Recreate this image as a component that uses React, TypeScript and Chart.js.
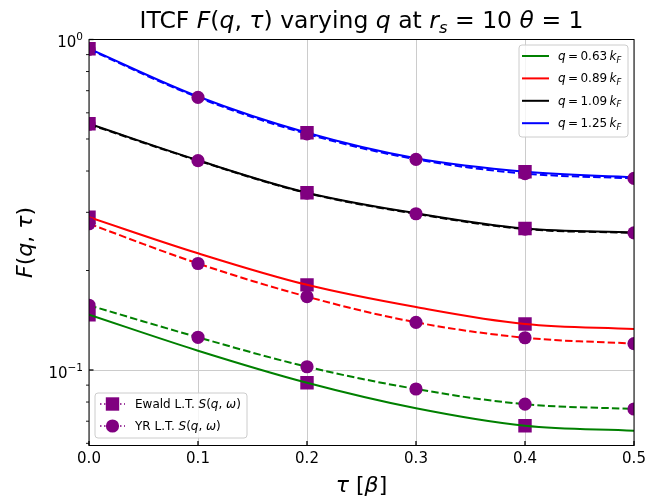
import React, { useEffect, useRef } from 'react';
import { Chart, registerables } from 'chart.js';

Chart.register(...registerables);

// ---- data ----
const tau = [0, 0.1, 0.2, 0.3, 0.4, 0.5];
const qValues = ['0.63', '0.89', '1.09', '1.25'];
const lineColors = ['#008000', '#ff0000', '#000000', '#0000ff'];

const ewaldQ063 = [0.147, 0.1144, 0.0915, 0.0766, 0.0678, 0.0655];
const ewaldQ089 = [0.29, 0.2255, 0.181, 0.155, 0.1377, 0.133];
const ewaldQ109 = [0.556, 0.431, 0.344, 0.298, 0.268, 0.261];
const ewaldQ125 = [0.938, 0.672, 0.522, 0.437, 0.398, 0.383];

const yrQ063 = [0.157, 0.1256, 0.1023, 0.0876, 0.0788, 0.0762];
const yrQ089 = [0.277, 0.21, 0.1667, 0.1394, 0.1252, 0.1202];
const yrQ109 = [0.554, 0.43, 0.343, 0.297, 0.267, 0.26];
const yrQ125 = [0.933, 0.668, 0.518, 0.434, 0.393, 0.38];

const ewaldMarkerTau = [0, 0.2, 0.4];

const xTickValues = [0, 0.1, 0.2, 0.3, 0.4, 0.5];
const xTickLabels = ['0.0', '0.1', '0.2', '0.3', '0.4', '0.5'];
const yMajorTicks = [0.1, 1];
const yMajorExponents = ['\u22121', '0'];
const yMinorTicks = [0.06, 0.07, 0.08, 0.09, 0.2, 0.3, 0.4, 0.5, 0.6, 0.7, 0.8, 0.9];
const yMin = 0.0591;
const yMax = 1.0;

const ewaldSeries = [ewaldQ063, ewaldQ089, ewaldQ109, ewaldQ125];
const yrSeries = [yrQ063, yrQ089, yrQ109, yrQ125];

const PURPLE = '#800080';
const FAM = '"DejaVu Sans", sans-serif';

type Seg = { t: string; it?: boolean; sub?: boolean; sup?: boolean };

function segFont(s: Seg, size: number) {
  const sz = s.sub || s.sup ? size * 0.7 : size;
  return `${s.it ? 'italic ' : ''}${sz}px ${FAM}`;
}
function richWidth(ctx: CanvasRenderingContext2D, segs: Seg[], size: number) {
  let w = 0;
  for (const s of segs) {
    ctx.font = segFont(s, size);
    w += ctx.measureText(s.t).width;
  }
  return w;
}
function drawRich(
  ctx: CanvasRenderingContext2D,
  segs: Seg[],
  x: number,
  y: number,
  size: number,
  align: 'left' | 'center' | 'right'
) {
  const w = richWidth(ctx, segs, size);
  let cx = align === 'center' ? x - w / 2 : align === 'right' ? x - w : x;
  ctx.textAlign = 'left';
  ctx.textBaseline = 'alphabetic';
  for (const s of segs) {
    ctx.font = segFont(s, size);
    const dy = s.sub ? size * 0.22 : s.sup ? -size * 0.45 : 0;
    ctx.fillText(s.t, cx, y + dy);
    cx += ctx.measureText(s.t).width;
  }
}

const titleSegs: Seg[] = [
  { t: 'ITCF ' }, { t: 'F', it: true }, { t: '(' }, { t: 'q', it: true }, { t: ', ' },
  { t: '\u03c4', it: true }, { t: ')' }, { t: ' varying ' }, { t: 'q', it: true }, { t: ' at ' },
  { t: 'r', it: true }, { t: 's', it: true, sub: true }, { t: ' = 10 ' }, { t: '\u03b8', it: true }, { t: ' = 1' },
];
const xLabelSegs: Seg[] = [{ t: '\u03c4', it: true }, { t: ' [' }, { t: '\u03b2', it: true }, { t: ']' }];
const yLabelSegs: Seg[] = [
  { t: 'F', it: true }, { t: '(' }, { t: 'q', it: true }, { t: ', ' }, { t: '\u03c4', it: true }, { t: ')' },
];
const qLegendSegs = (q: string): Seg[] => [
  { t: 'q', it: true }, { t: '\u2009=\u2009' }, { t: q }, { t: '\u2009' }, { t: 'k', it: true }, { t: 'F', it: true, sub: true },
];
const ewaldLegendSegs: Seg[] = [
  { t: 'Ewald L.T. ' }, { t: 'S', it: true }, { t: '(' }, { t: 'q', it: true }, { t: ', ' }, { t: '\u03c9', it: true }, { t: ')' },
];
const yrLegendSegs: Seg[] = [
  { t: 'YR L.T. ' }, { t: 'S', it: true }, { t: '(' }, { t: 'q', it: true }, { t: ', ' }, { t: '\u03c9', it: true }, { t: ')' },
];

function seg(ctx: CanvasRenderingContext2D, x1: number, y1: number, x2: number, y2: number) {
  ctx.beginPath();
  ctx.moveTo(x1, y1);
  ctx.lineTo(x2, y2);
  ctx.stroke();
}

function legendBox(ctx: CanvasRenderingContext2D, x: number, y: number, w: number, h: number) {
  ctx.beginPath();
  (ctx as any).roundRect(x, y, w, h, 3);
  ctx.fillStyle = 'rgba(255,255,255,0.8)';
  ctx.fill();
  ctx.strokeStyle = '#cccccc';
  ctx.lineWidth = 1;
  ctx.stroke();
}

const decorPlugin = {
  id: 'decor',
  afterDatasetsDraw(chart: any) {
    const { ctx, chartArea: a, scales } = chart;
    const xs = scales.x;
    const ys = scales.y;
    ctx.save();
    // frame
    ctx.strokeStyle = '#000';
    ctx.lineWidth = 1;
    ctx.strokeRect(a.left, a.top, a.right - a.left, a.bottom - a.top);
    // ticks
    ctx.lineWidth = 1.3;
    xTickValues.forEach((v) => {
      const px = xs.getPixelForValue(v);
      seg(ctx, px, a.bottom, px, a.bottom - 4.5);
    });
    yMajorTicks.forEach((v) => {
      const py = ys.getPixelForValue(v);
      seg(ctx, a.left, py, a.left + 4.5, py);
    });
    ctx.lineWidth = 0.9;
    yMinorTicks.forEach((v) => {
      const py = ys.getPixelForValue(v);
      seg(ctx, a.left - 3, py, a.left, py);
    });
    // tick labels
    ctx.fillStyle = '#000';
    ctx.font = `15px ${FAM}`;
    ctx.textAlign = 'center';
    ctx.textBaseline = 'top';
    xTickValues.forEach((v, i) => {
      ctx.fillText(xTickLabels[i], xs.getPixelForValue(v), a.bottom + 6);
    });
    yMajorTicks.forEach((v, i) => {
      const py = ys.getPixelForValue(v);
      drawRich(ctx, [{ t: '10' }, { t: yMajorExponents[i], sup: true }], a.left - 6, py + 7.5, 15, 'right');
    });
    // title and axis labels
    drawRich(ctx, titleSegs, (a.left + a.right) / 2, 28, 23.5, 'center');
    drawRich(ctx, xLabelSegs, (a.left + a.right) / 2, 492, 22, 'center');
    ctx.save();
    ctx.translate(32, (a.top + a.bottom) / 2);
    ctx.rotate(-Math.PI / 2);
    drawRich(ctx, yLabelSegs, 0, 0, 22, 'center');
    ctx.restore();

    // legend 1 (q values)
    const fs = 12;
    const l1w = 109;
    const l1x = a.right - 6 - l1w;
    const l1y = a.top + 5.5;
    legendBox(ctx, l1x, l1y, l1w, 92);
    qValues.forEach((q, i) => {
      const cy = l1y + 11 + i * 22.4;
      ctx.strokeStyle = lineColors[i];
      ctx.lineWidth = 2;
      seg(ctx, l1x + 3, cy, l1x + 30, cy);
      ctx.fillStyle = '#000';
      drawRich(ctx, qLegendSegs(q), l1x + 39, cy + 4, fs, 'left');
    });

    // legend 2 (markers)
    const l2x = a.left + 6;
    const l2h = 45;
    const l2y = a.bottom - 7.5 - l2h;
    legendBox(ctx, l2x, l2y, 152, l2h);
    [ewaldLegendSegs, yrLegendSegs].forEach((segs, i) => {
      const cy = l2y + 11 + i * 22;
      ctx.strokeStyle = PURPLE;
      ctx.lineWidth = 1.5;
      ctx.setLineDash([1.5, 2.5]);
      seg(ctx, l2x + 5, cy, l2x + 30, cy);
      ctx.setLineDash([]);
      ctx.fillStyle = PURPLE;
      const mx = l2x + 17.5;
      if (i === 0) {
        ctx.fillRect(mx - 6.7, cy - 6.7, 13.4, 13.4);
      } else {
        ctx.beginPath();
        ctx.arc(mx, cy, 6.6, 0, Math.PI * 2);
        ctx.fill();
      }
      ctx.fillStyle = '#000';
      drawRich(ctx, segs, l2x + 40, cy + 4, fs, 'left');
    });
    ctx.restore();
  },
};

export default function App() {
  const ref = useRef<HTMLCanvasElement>(null);
  useEffect(() => {
    document.body.style.margin = '0';
    const datasets: any[] = [];
    // Ewald markers (bottom)
    ewaldSeries.forEach((arr, k) => {
      datasets.push({
        label: `Ewald markers ${qValues[k]}`,
        data: tau
          .map((t, i) => ({ x: t, y: arr[i] }))
          .filter((p) => ewaldMarkerTau.includes(p.x)),
        showLine: false,
        pointStyle: 'rect',
        pointRadius: 9.5,
        pointBackgroundColor: PURPLE,
        pointBorderWidth: 0,
        borderColor: PURPLE,
        clip: 0,
        order: 4,
      });
    });
    // YR dashed lines
    yrSeries.forEach((arr, k) => {
      datasets.push({
        label: `YR ${qValues[k]}`,
        data: tau.map((t, i) => ({ x: t, y: arr[i] })),
        borderColor: lineColors[k],
        borderWidth: 2,
        borderDash: [7.5, 3.2],
        pointRadius: 0,
        tension: 0.35,
        fill: false,
        clip: 0,
        order: 3,
      });
    });
    // Ewald solid lines
    ewaldSeries.forEach((arr, k) => {
      datasets.push({
        label: `Ewald ${qValues[k]}`,
        data: tau.map((t, i) => ({ x: t, y: arr[i] })),
        borderColor: lineColors[k],
        borderWidth: 2,
        pointRadius: 0,
        tension: 0.35,
        fill: false,
        clip: 0,
        order: 2,
      });
    });
    // YR circle markers (top)
    yrSeries.forEach((arr, k) => {
      datasets.push({
        label: `YR markers ${qValues[k]}`,
        data: tau.map((t, i) => ({ x: t, y: arr[i] })),
        showLine: false,
        pointStyle: 'circle',
        pointRadius: 6.6,
        pointBackgroundColor: PURPLE,
        pointBorderWidth: 0,
        borderColor: PURPLE,
        clip: 0,
        order: 1,
      });
    });

    const chart = new Chart(ref.current as HTMLCanvasElement, {
      type: 'line',
      data: { datasets },
      options: {
        responsive: true,
        maintainAspectRatio: false,
        animation: false,
        events: [],
        layout: { padding: { left: 89, right: 12, top: 39.5, bottom: 52.5 } },
        plugins: {
          legend: { display: false },
          title: { display: false },
          tooltip: { enabled: false },
        },
        scales: {
          x: {
            type: 'linear',
            min: 0,
            max: 0.5,
            ticks: { display: false },
            grid: { color: '#cccccc', lineWidth: 1, drawTicks: false },
            border: { display: false },
            afterBuildTicks: (s: any) => {
              s.ticks = xTickValues.map((v) => ({ value: v }));
            },
          },
          y: {
            type: 'logarithmic',
            min: yMin,
            max: yMax,
            ticks: { display: false },
            grid: { color: '#cccccc', lineWidth: 1, drawTicks: false },
            border: { display: false },
            afterBuildTicks: (s: any) => {
              s.ticks = yMajorTicks.map((v) => ({ value: v }));
            },
          },
        },
      } as any,
      plugins: [decorPlugin],
    });
    return () => chart.destroy();
  }, []);
  return (
    <div style={{ position: 'fixed', left: 0, top: 0, width: 646, height: 498 }}>
      <canvas ref={ref} />
    </div>
  );
}
